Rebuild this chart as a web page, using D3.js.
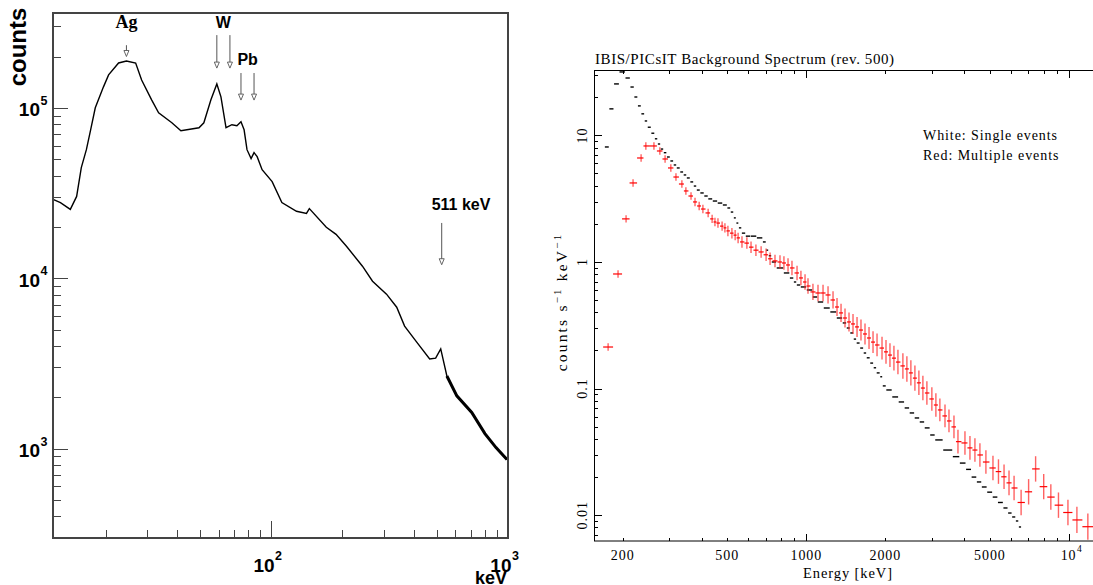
<!DOCTYPE html>
<html>
<head>
<meta charset="utf-8">
<script src="https://cdn.jsdelivr.net/npm/d3@7"></script>
<style>
  body { margin: 0; background: #fff; }
</style>
</head>
<body>
<div id="viz"></div>
<script>
// ---- left panel: Ge spectrum (keV, counts) ----
const leftEnergy = [12, 12.9, 14.2, 15.1, 15.8, 16.6, 17.3, 18.1, 19.6, 20.6, 22.7, 24.5, 26.8, 28.4, 31.3, 33.5, 38.1, 41.6, 49.6, 52.0,
  55.7, 59.0, 61.4, 64.5, 68.3, 71.7, 74.6, 76.9, 79.1, 82.3, 84.7, 87.3, 91.6, 101, 111, 128, 141, 145, 171, 188,
  208, 243, 268, 307, 339, 366, 411, 467, 495, 520, 552, 608, 703, 799, 890, 990];
const leftCounts = [29000, 27800, 25350, 30200, 44600, 56800, 74300, 100000, 132700, 156000, 183300, 188300, 183000, 145700, 111400, 93500, 81700, 73400, 76400, 81700,
  111400, 138100, 116000, 76400, 79600, 78500, 82900, 74300, 56800, 50400, 54600, 51700, 43300, 36900, 27800, 24700, 24000, 25600, 19900, 18100,
  15400, 11760, 9600, 8060, 6760, 5240, 4230, 3360, 3400, 3850, 2670, 2040, 1630, 1225, 1014, 863];
const leftMajorY = [1e3, 1e4, 1e5];
const leftMajorX = [1e2, 1e3];

// line markers: label, energy of arrow(s)
const lineNames = ['Ag', 'W', 'Pb', '511 keV'];
const lineArrows = [[24.5], [59, 67], [74.6, 84.7], [525]];

// ---- right panel: IBIS/PICsIT background (keV, counts/s/keV) ----
const singleE = [174, 181, 189, 199, 210, 217, 225, 231, 239, 245, 252, 261, 268, 275, 282, 290, 298, 308, 316, 325,
  336, 345, 355, 367, 377, 387, 401, 415, 430, 449, 469, 491, 508, 521, 536, 545, 560, 574, 600, 627,
  667, 697, 708, 728, 746, 794, 845, 883, 906, 930, 971, 1033, 1079, 1127, 1199, 1264, 1343, 1403, 1441, 1493,
  1531, 1572, 1628, 1672, 1717, 1778, 1824, 1874, 1941, 1959, 2065, 2175, 2311, 2415, 2524, 2637, 2757, 2878, 3034, 3144,
  3490, 3720, 3948, 4150, 4349, 4550, 4745, 5000, 5226, 5480, 5753, 5950, 6175, 6350, 6508];
const singleV = [8.1, 16.2, 25.5, 31.7, 28.4, 24.1, 20.1, 17.1, 14.8, 13.0, 11.6, 10.4, 9.4, 8.55, 7.8, 7.3, 6.75, 6.28, 5.84, 5.53,
  5.14, 4.87, 4.61, 4.29, 3.98, 3.70, 3.51, 3.32, 3.15, 3.03, 2.92, 2.82, 2.67, 2.48, 2.23, 2.03, 1.86, 1.69, 1.60, 1.60,
  1.55, 1.44, 1.24, 1.12, 1.0, 0.897, 0.819, 0.747, 0.695, 0.658, 0.635, 0.601, 0.529, 0.483, 0.433, 0.403, 0.361, 0.330, 0.301, 0.275,
  0.246, 0.229, 0.209, 0.191, 0.175, 0.159, 0.146, 0.133, 0.124, 0.105, 0.0975, 0.0859, 0.0784, 0.0703, 0.0642, 0.0586, 0.0545, 0.0489, 0.0430, 0.0393,
  0.0327, 0.0290, 0.0258, 0.0230, 0.0200, 0.0183, 0.0167, 0.0152, 0.0139, 0.0126, 0.0114, 0.0104, 0.00968, 0.0090, 0.00807];

const multiE = [176, 192, 206, 219, 235, 245, 263, 277, 290, 305, 319, 336, 348, 364, 377, 391, 404, 423, 438, 449,
  461, 478, 490, 503, 521, 536, 550, 569, 594, 616, 643, 673, 703, 728, 760, 794, 822, 852, 882, 922,
  954, 989, 1015, 1060, 1108, 1158, 1210, 1264, 1309, 1356, 1404, 1454, 1506, 1560, 1615, 1673, 1733, 1795, 1859, 1942,
  2011, 2082, 2156, 2233, 2332, 2415, 2501, 2591, 2683, 2779, 2878, 3006, 3114, 3225, 3373, 3493, 3649, 3779, 4018, 4198,
  4385, 4581, 4828, 5136, 5390, 5660, 5912, 6180, 6573, 7020, 7464, 8013, 8530, 9120, 9910, 10720, 11800];
const multiV = [0.213, 0.804, 2.19, 4.21, 6.63, 8.25, 8.25, 7.53, 6.51, 5.53, 4.69, 4.13, 3.64, 3.32, 2.98, 2.77, 2.62, 2.44, 2.19, 2.07,
  2.03, 1.92, 1.86, 1.76, 1.69, 1.63, 1.55, 1.44, 1.41, 1.31, 1.24, 1.20, 1.14, 1.06, 1.02, 1.00, 0.982, 0.947, 0.897, 0.819,
  0.748, 0.695, 0.646, 0.580, 0.569, 0.569, 0.549, 0.501, 0.441, 0.396, 0.361, 0.336, 0.324, 0.307, 0.290, 0.270, 0.251, 0.233, 0.221, 0.209,
  0.195, 0.184, 0.174, 0.162, 0.151, 0.143, 0.133, 0.121, 0.111, 0.101, 0.0923, 0.0828, 0.0742, 0.0678, 0.0608, 0.0555, 0.0498, 0.0381, 0.0372, 0.0340,
  0.0327, 0.0299, 0.0263, 0.0236, 0.0221, 0.0201, 0.0180, 0.0164, 0.0126, 0.0153, 0.0232, 0.0168, 0.0139, 0.0120, 0.0105, 0.00917, 0.00811];
// relative 1-sigma error of the multiple events
const multiErr = [0.07, 0.07, 0.07, 0.07, 0.07, 0.07, 0.07, 0.07, 0.07, 0.07, 0.07, 0.07, 0.07, 0.07, 0.08, 0.08, 0.08, 0.08, 0.08, 0.08,
  0.09, 0.09, 0.09, 0.10, 0.10, 0.10, 0.10, 0.11, 0.11, 0.11, 0.11, 0.11, 0.12, 0.12, 0.12, 0.13, 0.13, 0.13, 0.14, 0.14,
  0.14, 0.15, 0.15, 0.16, 0.16, 0.16, 0.17, 0.17, 0.18, 0.18, 0.19, 0.19, 0.20, 0.20, 0.21, 0.21, 0.22, 0.22, 0.23, 0.23,
  0.24, 0.24, 0.25, 0.25, 0.26, 0.26, 0.26, 0.26, 0.25, 0.25, 0.24, 0.24, 0.24, 0.23, 0.23, 0.23, 0.23, 0.24, 0.24, 0.24,
  0.24, 0.24, 0.24, 0.25, 0.25, 0.25, 0.25, 0.25, 0.26, 0.26, 0.26, 0.26, 0.26, 0.26, 0.26, 0.27, 0.27];
const rightXLabels = [200, 500, 1000, 2000, 5000];
const rightYLabels = [0.01, 0.1, 1, 10];

const width = 1093;
const height = 585;

const svg = d3.select('#viz').append('svg')
  .attr('width', width)
  .attr('height', height)
  .style('background', '#fff');

function minorTicks(lo, hi) {
  const out = [];
  for (let d = Math.floor(Math.log10(lo)); d <= Math.ceil(Math.log10(hi)); d++) {
    for (let k = 2; k <= 9; k++) {
      const v = k * Math.pow(10, d);
      if (v > lo && v < hi) out.push(v);
    }
  }
  return out;
}

function tickAxis(g, axis) {
  g.call(axis);
  g.select('.domain').remove();
  g.selectAll('text').remove();
  g.selectAll('line').attr('stroke', g.attr('data-c') || '#000').attr('shape-rendering', 'crispEdges');
}

// ================= LEFT PANEL =================
const xL = d3.scaleLog().domain([12, 1000]).range([53, 508]);
const yL = d3.scaleLog().domain([299, 3.6e5]).range([538, 13]);
const left = svg.append('g');
const sansB = 'Liberation Sans, Arial, Helvetica, sans-serif';

const leftData = d3.zip(leftEnergy, leftCounts);
const leftLine = d3.line().x(d => xL(d[0])).y(d => yL(d[1]));
left.append('path')
  .datum(leftData)
  .attr('d', leftLine)
  .attr('fill', 'none')
  .attr('stroke', '#000')
  .attr('stroke-width', 1.4);
// noisy high-energy tail looks thicker
left.append('path')
  .datum(leftData.filter(d => d[0] >= 552))
  .attr('d', leftLine)
  .attr('fill', 'none')
  .attr('stroke', '#000')
  .attr('stroke-width', 3);

left.append('rect')
  .attr('x', 53).attr('y', 13)
  .attr('width', 508 - 53).attr('height', 538 - 13)
  .attr('fill', 'none')
  .attr('stroke', '#444')
  .attr('stroke-width', 1.3)
  .attr('shape-rendering', 'crispEdges');

tickAxis(left.append('g').attr('data-c', '#444').attr('transform', 'translate(53,0)'),
  d3.axisLeft(yL).tickValues(minorTicks(299, 3.6e5)).tickSize(-8));
tickAxis(left.append('g').attr('data-c', '#444').attr('transform', 'translate(53,0)'),
  d3.axisLeft(yL).tickValues(leftMajorY).tickSize(-15));
tickAxis(left.append('g').attr('data-c', '#444').attr('transform', 'translate(0,538)'),
  d3.axisBottom(xL).tickValues(minorTicks(12, 1000)).tickSize(-8));
tickAxis(left.append('g').attr('data-c', '#444').attr('transform', 'translate(0,538)'),
  d3.axisBottom(xL).tickValues([100]).tickSize(-17));

leftMajorY.forEach(v => {
  const y = yL(v);
  left.append('text').attr('x', 40).attr('y', y + 8.5)
    .attr('text-anchor', 'end').attr('font-family', sansB).attr('font-weight', 'bold')
    .attr('font-size', 19).text('10');
  left.append('text').attr('x', 40.5).attr('y', y - 3)
    .attr('font-family', sansB).attr('font-weight', 'bold')
    .attr('font-size', 12.5).text(Math.round(Math.log10(v)));
});
leftMajorX.forEach(v => {
  const x = xL(v);
  left.append('text').attr('x', x + 3.5).attr('y', 572)
    .attr('text-anchor', 'end').attr('font-family', sansB).attr('font-weight', 'bold')
    .attr('font-size', 19).text('10');
  left.append('text').attr('x', x + 4).attr('y', 560)
    .attr('font-family', sansB).attr('font-weight', 'bold')
    .attr('font-size', 12.5).text(Math.round(Math.log10(v)));
});

left.append('text')
  .attr('transform', 'translate(26,47) rotate(-90)')
  .attr('text-anchor', 'middle')
  .attr('font-family', sansB).attr('font-weight', 'bold').attr('font-size', 24)
  .text('counts');
left.append('text')
  .attr('x', 507).attr('y', 584)
  .attr('text-anchor', 'end')
  .attr('font-family', sansB).attr('font-weight', 'bold').attr('font-size', 18)
  .text('keV');

// arrows: [top, bottom] in counts
const arrowSpan = [[2.33e5, 2.0e5], [2.67e5, 1.71e5], [1.60e5, 1.11e5], [2.11e4, 1.20e4]];
const labelPos = [[24.5, 2.94e5, 'middle'], [62.8, 2.94e5, 'middle'], [79.6, 1.78e5, 'middle'], [476, 2.52e4, 'start']];
lineNames.forEach((name, i) => {
  lineArrows[i].forEach(e => {
    const x = xL(e);
    const y0 = yL(arrowSpan[i][0]);
    const y1 = yL(arrowSpan[i][1]);
    left.append('line')
      .attr('x1', x).attr('x2', x).attr('y1', y0).attr('y2', y1 - 5)
      .attr('stroke', '#555').attr('stroke-width', 1);
    left.append('path')
      .attr('d', `M${x - 2.5},${y1 - 6}L${x + 2.5},${y1 - 6}L${x},${y1}Z`)
      .attr('fill', '#fff').attr('stroke', '#555').attr('stroke-width', 0.9);
  });
  const p = labelPos[i];
  left.append('text')
    .attr('x', xL(p[0])).attr('y', yL(p[1]))
    .attr('text-anchor', p[2])
    .attr('font-family', name === 'Ag' ? 'Liberation Serif, Times New Roman, serif' : sansB)
    .attr('font-weight', 'bold')
    .attr('font-size', name === 'Ag' ? 18 : 16)
    .text(name);
});

// ================= RIGHT PANEL =================
const xR = d3.scaleLog().domain([156.2, 14970]).range([594.5, 1115]);
const yR = d3.scaleLog().domain([0.006253, 32.55]).range([541, 70.5]);
const right = svg.append('g');
const serif = 'Liberation Serif, Times New Roman, serif';

function edges(E) {
  return E.map((e, i) => {
    const prev = i > 0 ? E[i - 1] : e * e / E[i + 1];
    const next = i < E.length - 1 ? E[i + 1] : e * e / E[i - 1];
    return [Math.sqrt(prev * e), Math.sqrt(e * next)];
  });
}

// single events (black dashes)
const sEdges = edges(singleE);
right.append('g').selectAll('line')
  .data(d3.range(singleE.length))
  .join('line')
  .attr('x1', i => xR(sEdges[i][0]) + 0.3)
  .attr('x2', i => xR(sEdges[i][1]) - 0.3)
  .attr('y1', i => yR(singleV[i]))
  .attr('y2', i => yR(singleV[i]))
  .attr('stroke', '#000')
  .attr('stroke-width', 1.4);

// multiple events (red crosses)
const mEdges = edges(multiE);
const red = right.append('g');
red.selectAll('line.v')
  .data(d3.range(multiE.length))
  .join('line')
  .attr('class', 'v')
  .attr('x1', i => xR(multiE[i]))
  .attr('x2', i => xR(multiE[i]))
  .attr('y1', i => yR(multiV[i] * (1 + multiErr[i])))
  .attr('y2', i => yR(multiV[i] / (1 + multiErr[i])))
  .attr('stroke', '#ff2020')
  .attr('stroke-opacity', 0.7)
  .attr('stroke-width', 1.4);
red.selectAll('line.h')
  .data(d3.range(multiE.length))
  .join('line')
  .attr('class', 'h')
  .attr('x1', i => xR(mEdges[i][0]))
  .attr('x2', i => xR(mEdges[i][1]))
  .attr('y1', i => yR(multiV[i]))
  .attr('y2', i => yR(multiV[i]))
  .attr('stroke', '#ff0000')
  .attr('stroke-width', 1.2);

right.append('rect')
  .attr('x', 594.5).attr('y', 70.5)
  .attr('width', 1115 - 594.5).attr('height', 541 - 70.5)
  .attr('fill', 'none')
  .attr('stroke', '#000')
  .attr('stroke-width', 1);

const rxMinor = minorTicks(156.2, 14970).filter(v => v !== 1000 && v !== 10000);
tickAxis(right.append('g').attr('transform', 'translate(0,541)'),
  d3.axisBottom(xR).tickValues(rxMinor).tickSize(-3.5));
tickAxis(right.append('g').attr('transform', 'translate(0,541)'),
  d3.axisBottom(xR).tickValues([1000, 10000]).tickSize(-7));
tickAxis(right.append('g').attr('transform', 'translate(0,70.5)'),
  d3.axisTop(xR).tickValues(rxMinor).tickSize(-3.5));
tickAxis(right.append('g').attr('transform', 'translate(0,70.5)'),
  d3.axisTop(xR).tickValues([1000, 10000]).tickSize(-7));
const ryMinor = minorTicks(0.006253, 32.55);
tickAxis(right.append('g').attr('transform', 'translate(594.5,0)'),
  d3.axisLeft(yR).tickValues(ryMinor).tickSize(-3.5));
tickAxis(right.append('g').attr('transform', 'translate(594.5,0)'),
  d3.axisLeft(yR).tickValues(rightYLabels).tickSize(-7));

rightXLabels.forEach(v => {
  right.append('text')
    .attr('x', xR(v)).attr('y', 560)
    .attr('text-anchor', 'middle')
    .attr('font-family', serif).attr('font-size', 14)
    .attr('letter-spacing', 0.9)
    .text(v);
});
right.append('text')
  .attr('x', xR(10000) + 7.5).attr('y', 560)
  .attr('text-anchor', 'end')
  .attr('font-family', serif).attr('font-size', 14)
  .attr('letter-spacing', 0.9)
  .text('10');
right.append('text')
  .attr('x', xR(10000) + 8).attr('y', 552)
  .attr('font-family', serif).attr('font-size', 9.5)
  .text('4');

rightYLabels.forEach(v => {
  right.append('text')
    .attr('transform', `translate(587,${yR(v)}) rotate(-90)`)
    .attr('text-anchor', 'middle')
    .attr('font-family', serif).attr('font-size', 14)
    .attr('letter-spacing', 1)
    .text(v);
});

right.append('text')
  .attr('x', 848).attr('y', 578)
  .attr('text-anchor', 'middle')
  .attr('font-family', serif).attr('font-size', 14.5)
  .attr('letter-spacing', 0.9)
  .text('Energy [keV]');

const yLab = right.append('text')
  .attr('transform', 'translate(566.5,302) rotate(-90)')
  .attr('text-anchor', 'middle')
  .attr('font-family', serif).attr('font-size', 15.5)
  .attr('letter-spacing', 2.2);
yLab.append('tspan').text('counts s');
yLab.append('tspan').attr('baseline-shift', 'super').attr('font-size', 11).text('\u22121');
yLab.append('tspan').text(' keV');
yLab.append('tspan').attr('baseline-shift', 'super').attr('font-size', 11).text('\u22121');

right.append('text')
  .attr('x', 595).attr('y', 63.5)
  .attr('font-family', serif).attr('font-size', 15)
  .attr('textLength', 299).attr('lengthAdjust', 'spacing')
  .text('IBIS/PICsIT Background Spectrum (rev. 500)');

right.append('text')
  .attr('x', 923).attr('y', 139.5)
  .attr('font-family', serif).attr('font-size', 14)
  .attr('textLength', 134).attr('lengthAdjust', 'spacing')
  .text('White: Single events');
right.append('text')
  .attr('x', 923).attr('y', 159.5)
  .attr('font-family', serif).attr('font-size', 14)
  .attr('textLength', 135.5).attr('lengthAdjust', 'spacing')
  .text('Red: Multiple events');
</script>
</body>
</html>
